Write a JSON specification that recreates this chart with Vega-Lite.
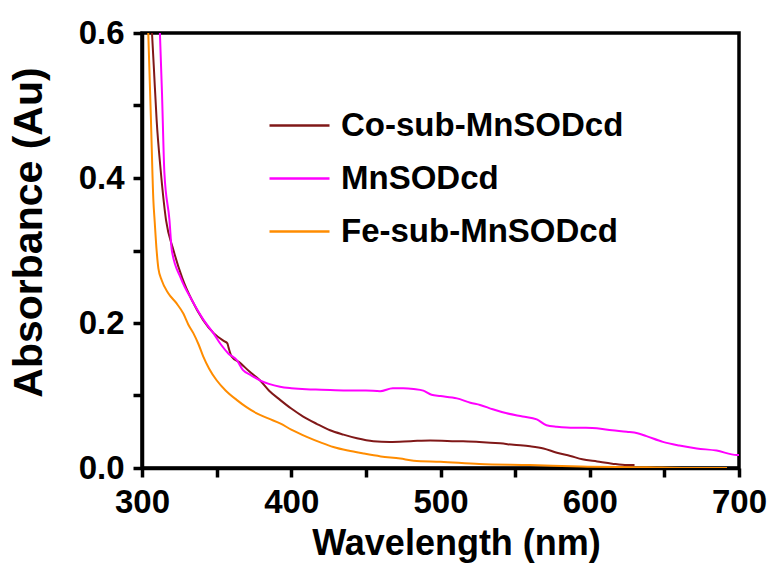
{
  "$schema": "https://vega.github.io/schema/vega-lite/v6.json",
  "width": 597,
  "height": 435,
  "autosize": {"type": "none"},
  "padding": {"left": 142, "top": 33, "right": 33, "bottom": 95},
  "background": "white",
  "config": {
    "view": {"stroke": "black", "strokeWidth": 3.5},
    "font": "Liberation Sans"
  },
  "data": {
    "values": [
      {"s": "Co-sub-MnSODcd", "x": 306.7, "y": 0.6},
      {"s": "Co-sub-MnSODcd", "x": 308, "y": 0.55},
      {"s": "Co-sub-MnSODcd", "x": 309.8, "y": 0.48},
      {"s": "Co-sub-MnSODcd", "x": 312.5, "y": 0.411},
      {"s": "Co-sub-MnSODcd", "x": 316.1, "y": 0.342},
      {"s": "Co-sub-MnSODcd", "x": 321, "y": 0.301},
      {"s": "Co-sub-MnSODcd", "x": 327, "y": 0.262},
      {"s": "Co-sub-MnSODcd", "x": 333.3, "y": 0.232},
      {"s": "Co-sub-MnSODcd", "x": 341, "y": 0.204},
      {"s": "Co-sub-MnSODcd", "x": 348, "y": 0.186},
      {"s": "Co-sub-MnSODcd", "x": 355, "y": 0.175},
      {"s": "Co-sub-MnSODcd", "x": 357.2, "y": 0.172},
      {"s": "Co-sub-MnSODcd", "x": 358, "y": 0.166},
      {"s": "Co-sub-MnSODcd", "x": 360, "y": 0.154},
      {"s": "Co-sub-MnSODcd", "x": 365.7, "y": 0.145},
      {"s": "Co-sub-MnSODcd", "x": 372, "y": 0.133},
      {"s": "Co-sub-MnSODcd", "x": 379, "y": 0.121},
      {"s": "Co-sub-MnSODcd", "x": 385, "y": 0.107},
      {"s": "Co-sub-MnSODcd", "x": 392.5, "y": 0.094},
      {"s": "Co-sub-MnSODcd", "x": 400, "y": 0.082},
      {"s": "Co-sub-MnSODcd", "x": 408, "y": 0.071},
      {"s": "Co-sub-MnSODcd", "x": 417, "y": 0.061},
      {"s": "Co-sub-MnSODcd", "x": 426, "y": 0.052},
      {"s": "Co-sub-MnSODcd", "x": 435, "y": 0.046},
      {"s": "Co-sub-MnSODcd", "x": 444, "y": 0.041},
      {"s": "Co-sub-MnSODcd", "x": 455, "y": 0.037},
      {"s": "Co-sub-MnSODcd", "x": 466, "y": 0.036},
      {"s": "Co-sub-MnSODcd", "x": 480, "y": 0.037},
      {"s": "Co-sub-MnSODcd", "x": 493, "y": 0.038},
      {"s": "Co-sub-MnSODcd", "x": 510, "y": 0.037},
      {"s": "Co-sub-MnSODcd", "x": 526, "y": 0.036},
      {"s": "Co-sub-MnSODcd", "x": 540, "y": 0.034},
      {"s": "Co-sub-MnSODcd", "x": 549, "y": 0.032},
      {"s": "Co-sub-MnSODcd", "x": 560, "y": 0.03},
      {"s": "Co-sub-MnSODcd", "x": 569, "y": 0.027},
      {"s": "Co-sub-MnSODcd", "x": 578, "y": 0.021},
      {"s": "Co-sub-MnSODcd", "x": 587, "y": 0.0166},
      {"s": "Co-sub-MnSODcd", "x": 595, "y": 0.012},
      {"s": "Co-sub-MnSODcd", "x": 605, "y": 0.009},
      {"s": "Co-sub-MnSODcd", "x": 615, "y": 0.006},
      {"s": "Co-sub-MnSODcd", "x": 625, "y": 0.004},
      {"s": "Co-sub-MnSODcd", "x": 630, "y": 0.004},
      {"s": "MnSODcd", "x": 312, "y": 0.6},
      {"s": "MnSODcd", "x": 313.4, "y": 0.517},
      {"s": "MnSODcd", "x": 315, "y": 0.407},
      {"s": "MnSODcd", "x": 318.4, "y": 0.342},
      {"s": "MnSODcd", "x": 320, "y": 0.3},
      {"s": "MnSODcd", "x": 326, "y": 0.262},
      {"s": "MnSODcd", "x": 333.3, "y": 0.232},
      {"s": "MnSODcd", "x": 341, "y": 0.205},
      {"s": "MnSODcd", "x": 347.8, "y": 0.186},
      {"s": "MnSODcd", "x": 353, "y": 0.17},
      {"s": "MnSODcd", "x": 357.8, "y": 0.158},
      {"s": "MnSODcd", "x": 363.4, "y": 0.149},
      {"s": "MnSODcd", "x": 367.7, "y": 0.135},
      {"s": "MnSODcd", "x": 373, "y": 0.128},
      {"s": "MnSODcd", "x": 379, "y": 0.121},
      {"s": "MnSODcd", "x": 385, "y": 0.116},
      {"s": "MnSODcd", "x": 392.5, "y": 0.112},
      {"s": "MnSODcd", "x": 400, "y": 0.11},
      {"s": "MnSODcd", "x": 410, "y": 0.1085},
      {"s": "MnSODcd", "x": 420, "y": 0.108},
      {"s": "MnSODcd", "x": 437, "y": 0.107},
      {"s": "MnSODcd", "x": 450, "y": 0.107},
      {"s": "MnSODcd", "x": 459.5, "y": 0.106},
      {"s": "MnSODcd", "x": 468, "y": 0.11},
      {"s": "MnSODcd", "x": 475, "y": 0.11},
      {"s": "MnSODcd", "x": 482, "y": 0.109},
      {"s": "MnSODcd", "x": 488.5, "y": 0.1067},
      {"s": "MnSODcd", "x": 494, "y": 0.101},
      {"s": "MnSODcd", "x": 500, "y": 0.0993},
      {"s": "MnSODcd", "x": 511, "y": 0.096},
      {"s": "MnSODcd", "x": 520, "y": 0.09},
      {"s": "MnSODcd", "x": 526.5, "y": 0.087},
      {"s": "MnSODcd", "x": 535, "y": 0.081},
      {"s": "MnSODcd", "x": 544.4, "y": 0.0754},
      {"s": "MnSODcd", "x": 555, "y": 0.071},
      {"s": "MnSODcd", "x": 564.5, "y": 0.067},
      {"s": "MnSODcd", "x": 571, "y": 0.059},
      {"s": "MnSODcd", "x": 578, "y": 0.057},
      {"s": "MnSODcd", "x": 584.5, "y": 0.056},
      {"s": "MnSODcd", "x": 595, "y": 0.0555},
      {"s": "MnSODcd", "x": 604.7, "y": 0.0547},
      {"s": "MnSODcd", "x": 615, "y": 0.052},
      {"s": "MnSODcd", "x": 624.8, "y": 0.05},
      {"s": "MnSODcd", "x": 632, "y": 0.048},
      {"s": "MnSODcd", "x": 638, "y": 0.044},
      {"s": "MnSODcd", "x": 649, "y": 0.036},
      {"s": "MnSODcd", "x": 660, "y": 0.031},
      {"s": "MnSODcd", "x": 671.7, "y": 0.027},
      {"s": "MnSODcd", "x": 685, "y": 0.024},
      {"s": "MnSODcd", "x": 698.5, "y": 0.018},
      {"s": "MnSODcd", "x": 700, "y": 0.018},
      {"s": "Fe-sub-MnSODcd", "x": 304.2, "y": 0.6},
      {"s": "Fe-sub-MnSODcd", "x": 306, "y": 0.48},
      {"s": "Fe-sub-MnSODcd", "x": 307.6, "y": 0.37},
      {"s": "Fe-sub-MnSODcd", "x": 308.5, "y": 0.34},
      {"s": "Fe-sub-MnSODcd", "x": 309.8, "y": 0.3},
      {"s": "Fe-sub-MnSODcd", "x": 311, "y": 0.275},
      {"s": "Fe-sub-MnSODcd", "x": 313.2, "y": 0.259},
      {"s": "Fe-sub-MnSODcd", "x": 317.6, "y": 0.241},
      {"s": "Fe-sub-MnSODcd", "x": 323.2, "y": 0.227},
      {"s": "Fe-sub-MnSODcd", "x": 327.7, "y": 0.213},
      {"s": "Fe-sub-MnSODcd", "x": 331, "y": 0.198},
      {"s": "Fe-sub-MnSODcd", "x": 334.4, "y": 0.186},
      {"s": "Fe-sub-MnSODcd", "x": 338, "y": 0.17},
      {"s": "Fe-sub-MnSODcd", "x": 341, "y": 0.154},
      {"s": "Fe-sub-MnSODcd", "x": 345, "y": 0.137},
      {"s": "Fe-sub-MnSODcd", "x": 350, "y": 0.121},
      {"s": "Fe-sub-MnSODcd", "x": 356, "y": 0.107},
      {"s": "Fe-sub-MnSODcd", "x": 363.4, "y": 0.094},
      {"s": "Fe-sub-MnSODcd", "x": 370, "y": 0.084},
      {"s": "Fe-sub-MnSODcd", "x": 376.9, "y": 0.0754},
      {"s": "Fe-sub-MnSODcd", "x": 385, "y": 0.068},
      {"s": "Fe-sub-MnSODcd", "x": 392.5, "y": 0.0616},
      {"s": "Fe-sub-MnSODcd", "x": 400, "y": 0.053},
      {"s": "Fe-sub-MnSODcd", "x": 410.4, "y": 0.043},
      {"s": "Fe-sub-MnSODcd", "x": 420, "y": 0.035},
      {"s": "Fe-sub-MnSODcd", "x": 428.2, "y": 0.029},
      {"s": "Fe-sub-MnSODcd", "x": 438, "y": 0.024},
      {"s": "Fe-sub-MnSODcd", "x": 448.3, "y": 0.02},
      {"s": "Fe-sub-MnSODcd", "x": 460, "y": 0.016},
      {"s": "Fe-sub-MnSODcd", "x": 473, "y": 0.013},
      {"s": "Fe-sub-MnSODcd", "x": 482, "y": 0.01},
      {"s": "Fe-sub-MnSODcd", "x": 500, "y": 0.0085},
      {"s": "Fe-sub-MnSODcd", "x": 526, "y": 0.0055},
      {"s": "Fe-sub-MnSODcd", "x": 560, "y": 0.004},
      {"s": "Fe-sub-MnSODcd", "x": 594, "y": 0.002},
      {"s": "Fe-sub-MnSODcd", "x": 638, "y": 0.001},
      {"s": "Fe-sub-MnSODcd", "x": 665, "y": 0.0},
      {"s": "Fe-sub-MnSODcd", "x": 692, "y": 0.0}
    ]
  },
  "mark": {"type": "line", "strokeWidth": 2, "clip": true, "interpolate": "monotone"},
  "encoding": {
    "x": {
      "field": "x",
      "type": "quantitative",
      "scale": {"domain": [300, 700], "nice": false, "zero": false},
      "axis": {
        "title": "Wavelength (nm)",
        "values": [300, 350, 400, 450, 500, 550, 600, 650, 700],
        "labelExpr": "datum.value % 100 == 0 ? datum.label : ''",
        "grid": false,
        "domainColor": "black",
        "domainWidth": 3.5,
        "tickColor": "black",
        "tickWidth": 3.5,
        "tickSize": 9,
        "labelFont": "Liberation Sans",
        "labelFontWeight": "bold",
        "labelFontSize": 33,
        "labelColor": "black",
        "labelBaseline": "alphabetic",
        "labelPadding": 35,
        "labelFlush": false,
        "labelOverlap": false,
        "titleFont": "Liberation Sans",
        "titleFontWeight": "bold",
        "titleFontSize": 36,
        "titleColor": "black",
        "titleBaseline": "alphabetic",
        "titleX": 314,
        "titleY": 86
      }
    },
    "y": {
      "field": "y",
      "type": "quantitative",
      "scale": {"domain": [0, 0.6], "nice": false},
      "axis": {
        "title": "Absorbance (Au)",
        "values": [0, 0.1, 0.2, 0.3, 0.4, 0.5, 0.6],
        "labelExpr": "(round(datum.value * 10) % 2 == 0) ? format(datum.value, '.1f') : ''",
        "grid": false,
        "domainColor": "black",
        "domainWidth": 3.5,
        "tickColor": "black",
        "tickWidth": 3.5,
        "tickSize": 9,
        "labelFont": "Liberation Sans",
        "labelFontWeight": "bold",
        "labelFontSize": 33,
        "labelColor": "black",
        "labelBaseline": "middle",
        "labelPadding": 9,
        "labelFlush": false,
        "labelOverlap": false,
        "titleFont": "Liberation Sans",
        "titleFontWeight": "bold",
        "titleFontSize": 41,
        "titleColor": "black",
        "titleBaseline": "alphabetic",
        "titleX": -101,
        "titleY": 199
      }
    },
    "color": {
      "field": "s",
      "type": "nominal",
      "scale": {
        "domain": ["Co-sub-MnSODcd", "MnSODcd", "Fe-sub-MnSODcd"],
        "range": ["#801818", "#FF00FF", "#FF8C00"]
      },
      "legend": {
        "title": null,
        "orient": "none",
        "legendX": 126,
        "legendY": 61,
        "padding": 0,
        "symbolType": "stroke",
        "symbolSize": 3600,
        "symbolStrokeWidth": 2.5,
        "labelFont": "Liberation Sans",
        "labelFontWeight": "bold",
        "labelFontSize": 33,
        "labelColor": "black",
        "labelOffset": 10,
        "labelLimit": 400,
        "rowPadding": 4
      }
    }
  }
}
